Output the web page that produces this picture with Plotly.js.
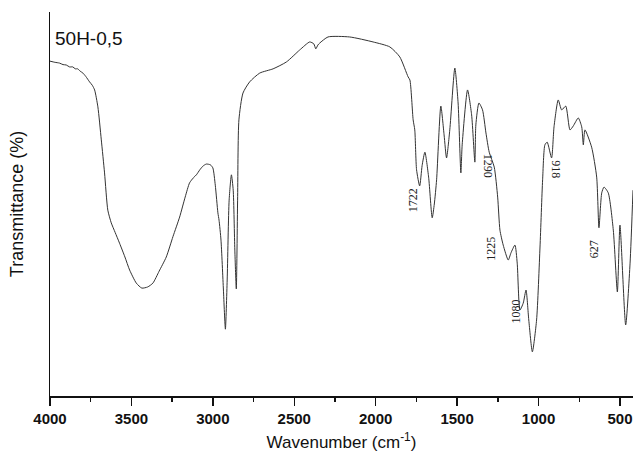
<!DOCTYPE html>
<html>
<head>
<meta charset="utf-8">
<script src="https://cdn.plot.ly/plotly-3.0.1.min.js"></script>
<style>html,body{margin:0;padding:0;background:#fff;}#chart{width:633px;height:457px;}</style>
</head>
<body>
<div id="chart"></div>
<script>
// Wavenumber (cm-1)
const wavenumber = [4000,3970,3942,3920,3900,3880,3860,3845,3830,3815,3798,3780,3757,3740,3726,3706,3685,3665,3645,3624,3600,3573,3540,3511,3470,3436,3400,3368,3330,3286,3245,3204,3170,3143,3120,3101,3080,3060,3040,3015,3000,2985,2969,2962,2950,2935,2923,2912,2900,2886,2875,2865,2856,2848,2840,2815,2774,2712,2630,2548,2467,2405,2380,2368,2355,2344,2293,2160,2016,1913,1852,1801,1790,1770,1760,1749,1730,1715,1698,1675,1653,1640,1626,1600,1580,1565,1545,1514,1494,1477,1469,1436,1411,1391,1385,1366,1344,1323,1303,1272,1251,1237,1217,1186,1170,1145,1131,1114,1094,1077,1060,1038,1012,991,975,961,947,920,905,879,858,833,807,787,756,735,725,715,674,643,629,612,598,572,541,516,500,465,438,420];
// Transmittance (%)
const transmittance = [87.2,86.9,86.7,86.3,86.2,85.7,85.7,85.2,85.2,84.6,84.1,83.2,81.8,80.9,79.7,75.3,66.7,58.1,48.4,45.1,42.6,39.8,36.2,32.8,29.4,28.1,28.4,29.4,32.5,36.2,41.5,46.6,51.8,55.5,56.8,57.6,58.9,59.9,60.4,60.2,59.4,54.9,47.7,45.8,40.6,27.6,17.4,30.2,51.0,57.6,53.6,38.0,27.9,51.0,71.9,78.9,81.8,84.1,85.2,87.0,90.1,92.2,91.7,90.4,91.4,91.9,93.5,93.5,92.2,90.9,88.3,83.1,82.3,71.9,69.3,58.9,54.7,60.0,63.5,57.0,46.4,50.0,56.3,75.5,68.0,62.0,69.3,85.4,76.3,58.1,65.4,79.7,73.2,60.9,70.6,76.3,74.5,68.5,63.5,59.6,51.8,43.2,39.3,35.4,37.2,39.3,34.6,22.4,24.2,27.6,19.8,11.5,19.8,38.8,56.3,65.4,66.1,62.0,70.1,77.1,74.5,75.5,69.3,70.3,72.4,70.1,65.4,69.3,64.8,57.0,43.8,52.9,54.4,52.9,43.2,27.1,44.5,18.5,34.6,53.6];
// Peak labels
const peakLabels = ['1722','1290','1225','1080','918','627'];
const peakWavenumber = [1722,1290,1225,1080,918,627];
const sampleName = '50H-0,5';

// label placement (style)
const labelT = [51.0,59.9,38.3,21.9,59.1,38.3];
const labelShift = [-8,-3,-11,-10,4,-5];
const labelAngle = [-90,90,-90,-90,90,-90];

const annotations = peakLabels.map((t,i)=>({
  x: peakWavenumber[i], y: labelT[i], xref:'x', yref:'y',
  text: t, showarrow:false, textangle: labelAngle[i], xshift: labelShift[i],
  font:{family:'Liberation Serif, Times New Roman, serif', size:12, color:'#222'}
}));
annotations.push({
  xref:'paper', yref:'paper', x:0.006, y:0.93, xanchor:'left', yanchor:'middle',
  text: sampleName, showarrow:false,
  font:{family:'Liberation Sans, Arial, sans-serif', size:19, color:'#111'}
});

const trace = {
  x: wavenumber, y: transmittance, type:'scatter', mode:'lines',
  line:{color:'#333', width:1, shape:'spline', smoothing:0.6}, hoverinfo:'skip'
};

const layout = {
  width:633, height:457,
  margin:{l:50, r:0, t:12, b:61},
  paper_bgcolor:'#fff', plot_bgcolor:'#fff',
  showlegend:false,
  xaxis:{
    range:[4000,420], showgrid:false, zeroline:false,
    showline:true, linecolor:'#111', linewidth:1.5,
    ticks:'outside', ticklen:8, tickwidth:1.5, tickcolor:'#111',
    tick0:0, dtick:500,
    minor:{ticks:'outside', ticklen:4, tickwidth:1.5, tickcolor:'#111', dtick:250, showgrid:false},
    tickfont:{family:'Liberation Sans, Arial, sans-serif', size:15, color:'#111', weight:'bold'},
    title:{text:'Wavenumber (cm<sup>-1</sup>)', standoff:10,
      font:{family:'Liberation Sans, Arial, sans-serif', size:17, color:'#111'}}
  },
  yaxis:{
    range:[0,100], showgrid:false, zeroline:false,
    showline:true, linecolor:'#111', linewidth:1.5,
    showticklabels:false, ticks:'',
    title:{text:'Transmittance (%)', standoff:20,
      font:{family:'Liberation Sans, Arial, sans-serif', size:18, color:'#111'}}
  },
  annotations: annotations
};

Plotly.newPlot('chart',[trace],layout,{displayModeBar:false, staticPlot:true});
</script>
</body>
</html>
